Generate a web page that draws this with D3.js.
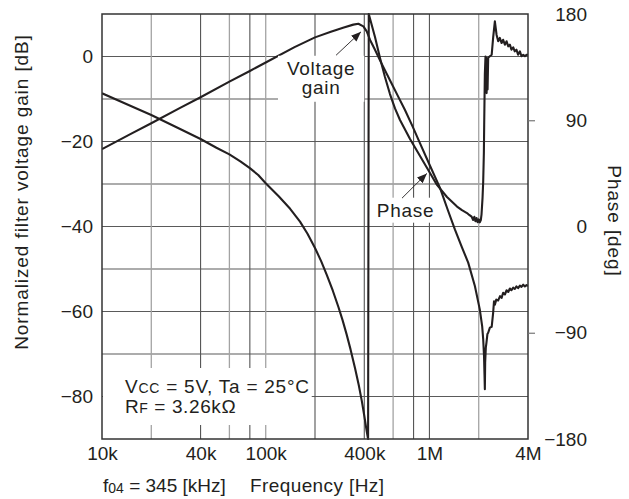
<!DOCTYPE html>
<html>
<head>
<meta charset="utf-8">
<script src="https://cdn.jsdelivr.net/npm/d3@7"></script>
<style>
  body { margin: 0; background: #fff; }
  svg { display: block; font-family: "Liberation Sans", Arial, Helvetica, sans-serif; }
</style>
</head>
<body>
<svg id="chart" width="629" height="499"></svg>
<script>
// Frequency response of the filter: normalized voltage gain [dB] and phase [deg]
const gainFreq = [10e3, 15e3, 20e3, 30e3, 40e3, 60e3, 80e3, 100e3, 150e3, 200e3, 250e3, 300e3, 343e3, 368e3,
  395e3, 414e3, 434e3, 465e3, 499e3, 574e3, 640e3, 709e3, 790e3, 875e3, 1.0e6, 1.16e6, 1.3e6, 1.43e6, 1.58e6,
  1.725e6, 1.895e6, 2.03e6, 2.1e6, 2.13e6, 2.155e6, 2.17e6, 2.18e6, 2.19e6, 2.21e6, 2.23e6, 2.26e6, 2.285e6,
  2.34e6, 2.4e6, 2.45e6, 2.48e6, 2.51e6, 2.56e6, 2.63e6, 2.7e6, 2.76e6, 2.82e6, 2.89e6, 2.96e6, 3.03e6, 3.1e6,
  3.17e6, 3.25e6, 3.32e6, 3.4e6, 3.48e6, 3.57e6, 3.65e6, 3.74e6, 3.83e6, 3.92e6, 4.0e6];
const gainDb = [-21.8, -18.2, -15.7, -12.1, -9.6, -5.9, -3.4, -1.4, 2.2, 4.5, 5.8, 6.8, 7.5, 7.7,
  7.1, 5.9, 3.9, 1.6, -0.9, -5.6, -9.2, -12.6, -16.5, -20.4, -25.4, -30.9, -36.3, -40.7, -44.9,
  -48.5, -54.0, -59.5, -63.5, -66.5, -70.5, -75.0, -78.3, -72.0, -68.5, -67.3, -65.3, -65.0,
  -63.8, -63.6, -60.3, -57.6, -58.4, -57.2, -57.4, -56.4, -56.8, -55.6, -56.0, -55.0, -55.4, -54.6,
  -55.0, -54.4, -54.7, -54.1, -54.5, -53.9, -54.2, -53.7, -54.1, -53.8, -54.0];

const phaseFreq = [10e3, 15e3, 20e3, 30e3, 40e3, 50e3, 60e3, 70e3, 80e3, 90e3, 100e3, 120e3, 141e3, 162e3,
  180e3, 200e3, 218e3, 236e3, 257e3, 278e3, 295e3, 312e3, 330e3, 351e3, 370e3, 386e3, 400e3, 414e3, 422e3,
  426e3, 465e3, 499e3, 535e3, 574e3, 616e3, 661e3, 761e3, 876e3, 1.008e6, 1.112e6, 1.28e6, 1.474e6,
  1.58e6, 1.696e6, 1.75e6, 1.81e6, 1.85e6, 1.88e6, 1.91e6, 1.94e6, 1.97e6, 2.0e6, 2.03e6, 2.06e6, 2.08e6,
  2.11e6, 2.13e6, 2.15e6, 2.16e6, 2.17e6, 2.18e6, 2.2e6, 2.21e6, 2.22e6, 2.235e6, 2.25e6, 2.265e6, 2.285e6,
  2.34e6, 2.4e6, 2.45e6, 2.51e6, 2.57e6, 2.63e6, 2.69e6, 2.76e6, 2.82e6, 2.89e6, 2.96e6, 3.03e6, 3.1e6,
  3.17e6, 3.25e6, 3.32e6, 3.4e6, 3.48e6, 3.57e6, 3.65e6, 3.74e6, 3.83e6, 3.92e6, 4.0e6];
const phaseDeg = [112.8, 102.1, 94.5, 82.6, 74.1, 66.7, 61.1, 55.1, 49.4, 43.6, 36.6, 25.6, 15.0, 4.1,
  -6.1, -18.2, -29.3, -40.9, -54.4, -68.2, -79.5, -91.4, -104.3, -119.9, -134.3, -147.5, -160.3, -173.5, -180,
  180, 160.5, 142.7, 126.6, 112.2, 100.0, 90.2, 74.1, 59.7, 45.3, 35.2, 25.0, 16.9,
  13.8, 11.4, 9.8, 8.3, 5.5, 8.2, 4.5, 7.2, 3.6, 6.0, 3.5, 5.5, 10.0,
  24.0, 38.0, 62.0, 86.0, 108.0, 129.0, 144.0, 114.0, 143.0, 113.0, 142.0, 116.0, 143.0,
  144.2, 145.5, 160.0, 173.8, 162.5, 156.9, 159.7, 155.4, 158.2, 154.0, 156.9, 152.6, 154.0,
  149.8, 151.8, 148.4, 149.8, 145.5, 148.4, 144.2, 145.5, 144.2, 145.5, 145.5];

const freqTicks = [1e4, 4e4, 1e5, 4e5, 1e6, 4e6];
const freqTickLabels = ["10k", "40k", "100k", "400k", "1M", "4M"];
const freqGridDark = [4e4, 8e4, 2e5, 4e5, 8e5, 1e6];
const freqGridLight = [2e4, 6e4, 1e5, 6e5, 2e6];
const gainTicks = [0, -20, -40, -60, -80];
const gainGrid = [0, -10, -20, -30, -40, -50, -60, -70, -80];
const phaseTicks = [180, 90, 0, -90, -180];
const phaseOutsideTicks = [90, -90];

const ink = "#231f20";
const plotL = 102, plotR = 528, plotT = 14, plotB = 439;

const svg = d3.select("#chart");
const x = d3.scaleLog().domain([1e4, 4e6]).range([plotL, plotR]);
const yG = d3.scaleLinear().domain([-90, 10]).range([plotB, plotT]);
const yP = d3.scaleLinear().domain([-180, 180]).range([plotB, plotT]);

// grid
const grid = svg.append("g");
grid.selectAll("line.h").data(gainGrid).join("line")
  .attr("x1", plotL).attr("x2", plotR)
  .attr("y1", d => yG(d)).attr("y2", d => yG(d))
  .attr("stroke", "#5a5a5a").attr("stroke-width", 1.1);
grid.selectAll("line.vl").data(freqGridLight).join("line")
  .attr("x1", d => x(d)).attr("x2", d => x(d))
  .attr("y1", plotT).attr("y2", plotB)
  .attr("stroke", "#a3a3a3").attr("stroke-width", 1.3);
grid.selectAll("line.vd").data(freqGridDark).join("line")
  .attr("x1", d => x(d)).attr("x2", d => x(d))
  .attr("y1", plotT).attr("y2", plotB)
  .attr("stroke", "#555").attr("stroke-width", 1.1);

// curves
svg.append("clipPath").attr("id", "plot")
  .append("rect").attr("x", plotL).attr("y", plotT - 1).attr("width", plotR - plotL).attr("height", plotB - plotT + 2);

const gainLine = d3.line().x(d => x(d[0])).y(d => yG(d[1]));
const phaseLine = d3.line().x(d => x(d[0])).y(d => yP(d[1]));
const curves = svg.append("g").attr("clip-path", "url(#plot)")
  .attr("fill", "none").attr("stroke", ink).attr("stroke-width", 2.1).attr("stroke-linejoin", "round");
curves.append("path").attr("d", phaseLine(d3.zip(phaseFreq, phaseDeg)));
curves.append("path").attr("d", gainLine(d3.zip(gainFreq, gainDb)));

// frame
svg.append("rect").attr("x", plotL).attr("y", plotT).attr("width", plotR - plotL).attr("height", plotB - plotT)
  .attr("fill", "none").attr("stroke", "#333").attr("stroke-width", 1.5);

// axes
const fontSize = 19;
function styleAxis(g) {
  g.select(".domain").remove();
  g.selectAll("text").attr("fill", ink).style("font-size", fontSize + "px").style("font-family", "inherit");
}
const fmt = d => (d < 0 ? "\u2212" + Math.abs(d) : String(d));

svg.append("g").attr("transform", `translate(${plotL},0)`)
  .call(d3.axisLeft(yG).tickValues(gainTicks).tickSize(0).tickPadding(9).tickFormat(fmt))
  .call(styleAxis);

svg.append("g").attr("transform", `translate(${plotR},0)`)
  .call(d3.axisRight(yP).tickValues(phaseTicks).tickSize(0).tickFormat(fmt))
  .call(styleAxis)
  .call(g => g.selectAll("text").attr("x", 59).attr("text-anchor", "end"));

svg.append("g").attr("transform", `translate(${plotR},0)`)
  .call(d3.axisRight(yP).tickValues(phaseOutsideTicks).tickSize(7).tickFormat(""))
  .call(g => g.select(".domain").remove())
  .call(g => g.selectAll("line").attr("stroke", "#777").attr("stroke-width", 1.2));

svg.append("g").attr("transform", `translate(0,${plotB})`)
  .call(d3.axisBottom(x).tickValues(freqTicks).tickSize(0).tickFormat((d, i) => freqTickLabels[i]))
  .call(styleAxis)
  .call(g => g.selectAll("text").attr("y", 21).attr("dy", 0));

// axis titles
svg.append("text")
  .attr("transform", "translate(28,192) rotate(-90)")
  .attr("text-anchor", "middle").attr("fill", ink)
  .style("font-size", "19px").style("letter-spacing", "0.9px")
  .text("Normalized filter voltage gain [dB]");

svg.append("text")
  .attr("transform", "translate(608,221) rotate(90)")
  .attr("text-anchor", "middle").attr("fill", ink)
  .style("font-size", "19px").style("letter-spacing", "0.9px")
  .text("Phase [deg]");

const fLabel = svg.append("text").attr("x", 103).attr("y", 492).attr("fill", ink).style("font-size", "19px");
fLabel.append("tspan").text("f");
fLabel.append("tspan").attr("dy", 1).style("font-size", "14px").text("04");
fLabel.append("tspan").attr("dy", -1).text(" = 345 [kHz]");

svg.append("text").attr("x", 250).attr("y", 492).attr("fill", ink)
  .style("font-size", "19px").style("letter-spacing", "0.4px").text("Frequency [Hz]");

// conditions box
const cond = svg.append("g");
const condBg = cond.append("rect").attr("fill", "#fff");
const c1 = cond.append("text").attr("x", 125).attr("y", 393).attr("fill", ink)
  .style("font-size", "19px").style("letter-spacing", "0.75px");
c1.append("tspan").text("V");
c1.append("tspan").style("font-size", "14px").text("CC");
c1.append("tspan").text(" = 5V, Ta = 25°C");
const c2 = cond.append("text").attr("x", 125).attr("y", 413).attr("fill", ink)
  .style("font-size", "19px").style("letter-spacing", "0.6px");
c2.append("tspan").text("R");
c2.append("tspan").style("font-size", "14px").text("F");
c2.append("tspan").text(" = 3.26k\u03a9");
const cb = cond.node().getBBox();
condBg.attr("x", plotL + 1).attr("y", 368).attr("width", cb.x + cb.width + 2 - plotL - 1).attr("height", 57);

// callouts
svg.append("defs").append("marker")
  .attr("id", "head").attr("viewBox", "0 0 10 8").attr("refX", 10).attr("refY", 4)
  .attr("markerWidth", 10).attr("markerHeight", 8).attr("markerUnits", "userSpaceOnUse")
  .attr("orient", "auto")
  .append("path").attr("d", "M0,0L10,4L0,8Z").attr("fill", ink);

function callout(pad, lines, anchorF, anchorV, yScale, tail, tip) {
  const g = svg.append("g");
  const bg = g.append("rect").attr("fill", "#fff");
  const t = g.append("text").attr("text-anchor", "middle").attr("fill", ink)
    .style("font-size", "19px").style("letter-spacing", "0.7px");
  lines.forEach((s, i) => t.append("tspan").attr("x", x(anchorF)).attr("y", yScale(anchorV) + i * 19).text(s));
  const b = t.node().getBBox();
  bg.attr("x", b.x - pad.x).attr("y", b.y - pad.top)
    .attr("width", b.width + 2 * pad.x).attr("height", b.height + pad.top + pad.bottom);
  g.append("line")
    .attr("x1", x(tail[0])).attr("y1", yScale(tail[1]))
    .attr("x2", x(tip[0])).attr("y2", yScale(tip[1]))
    .attr("stroke", ink).attr("stroke-width", 0.9).attr("marker-end", "url(#head)");
}

callout({ x: 9, top: 2, bottom: 4 }, ["Voltage", "gain"], 218e3, -4.3, yG, [269e3, 0.3], [382e3, 5.8]);
callout({ x: 3, top: 2, bottom: 2 }, ["Phase"], 714e3, 8.3, yP, [680e3, 24], [965e3, 45]);
</script>
</body>
</html>
